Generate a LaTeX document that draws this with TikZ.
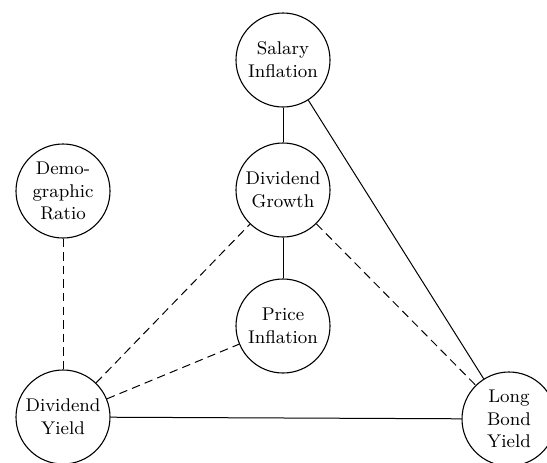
\documentclass[tikz,border=0pt]{standalone}
\begin{document}
\begin{tikzpicture}[x=0.5pt,y=-0.5pt,
  var/.style={draw, circle, line width=0.55pt, minimum size=47pt, inner sep=0pt,
    align=center, font=\fontsize{9.2}{11.4}\selectfont},
  link/.style={line width=0.5pt},
  weak/.style={line width=0.5pt, dash pattern=on 4.2pt off 2.6pt}]
  \useasboundingbox (0,0) rectangle (547,462);

  % variables
  \node[var] (sal)  at (283,60)  {Salary\\Inflation};
  \node[var] (dg)   at (283,190) {Dividend\\Growth};
  \node[var] (pi)   at (283,326) {Price\\Inflation};
  \node[var] (demo) at (63,191)  {Demo-\\graphic\\Ratio};
  \node[var] (dy)   at (63,417)  {Dividend\\Yield};
  \node[var] (lby)  at (509,419) {Long\\Bond\\Yield};

  % direct links
  \draw[link] (sal) -- (dg);
  \draw[link] (dg) -- (pi);
  \draw[link] (sal) -- (lby);
  \draw[link] (dy) -- (lby);

  % weaker links
  \draw[weak] (demo) -- (dy);
  \draw[weak] (dy) -- (dg);
  \draw[weak] (dy) -- (pi);
  \draw[weak] (dg) -- (lby);
\end{tikzpicture}
\end{document}
